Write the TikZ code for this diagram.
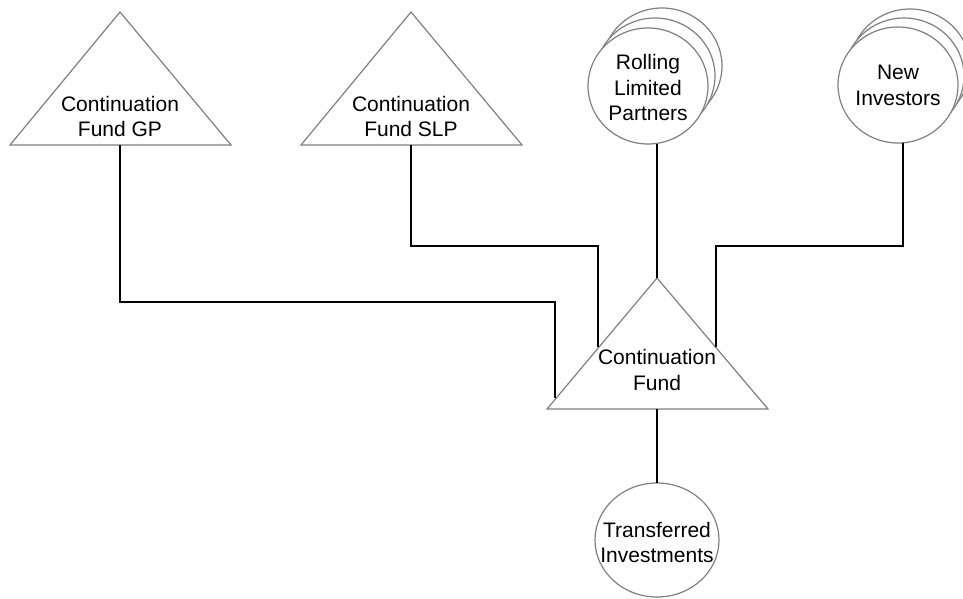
\documentclass[tikz,border=0pt]{standalone}
\usepackage{fontspec}
\setmainfont{Liberation Sans}
\begin{document}
\begin{tikzpicture}[x=1pt,y=-1pt,
  outline/.style={draw=black!50,line width=1.2pt,fill=white},
  wire/.style={draw=black,line width=1.3pt},
  lbl/.style={align=center,inner sep=0pt,font=\fontsize{21}{25.5}\selectfont}]
\useasboundingbox[fill=white] (0,0) rectangle (963,598);

% ---- ownership triangles ----
\draw[outline] (10,145) -- (120,12) -- (231,145) -- cycle;
\draw[outline] (301,145) -- (411,12) -- (522,145) -- cycle;
\draw[outline] (547,409) -- (657,278) -- (768,409) -- cycle;

% ---- investor groups (stacked circles) ----
\foreach \d in {2,1,0}
  \draw[outline] (648+7*\d,86-10*\d) ellipse [x radius=60, y radius=58];
\foreach \d in {2,1,0}
  \draw[outline] (898+6*\d,85-9*\d) ellipse [x radius=60, y radius=58];

% ---- portfolio circle ----
\draw[outline] (657,540) ellipse [x radius=62, y radius=57];

% ---- labels ----
\node[lbl] (gp)   at (120,116.4) {Continuation\\Fund GP};
\node[lbl] (slp)  at (411,116.4) {Continuation\\Fund SLP};
\node[lbl] (cf)   at (657,369.9) {Continuation\\Fund};
\node[lbl] (rlp)  at (648,87.6)  {Rolling\\Limited\\Partners};
\node[lbl] (new)  at (898,85.4)  {New\\Investors};
\node[lbl] (ti)   at (657,542.4) {Transferred\\Investments};

% ---- attachment points ----
\coordinate (gp-out)   at (120,145);
\coordinate (slp-out)  at (411,145);
\coordinate (rlp-out)  at (657,144);
\coordinate (new-out)  at (903,143);
\coordinate (cf-apex)  at (657,278);
\coordinate (cf-left1) at (555,398);
\coordinate (cf-left2) at (598,347);
\coordinate (cf-right) at (716,347);
\coordinate (cf-base)  at (657,409);
\coordinate (ti-top)   at (657,483);

% ---- connectors ----
\draw[wire] (gp-out) -- (120,302) -| (cf-left1);
\draw[wire] (slp-out) -- (411,246) -| (cf-left2);
\draw[wire] (rlp-out) -- (cf-apex);
\draw[wire] (new-out) -- (903,246) -| (cf-right);
\draw[wire] (cf-base) -- (ti-top);
\end{tikzpicture}
\end{document}
